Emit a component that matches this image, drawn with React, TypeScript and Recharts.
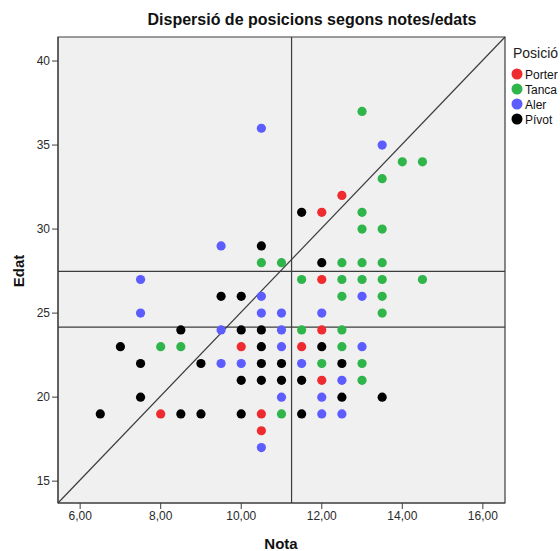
import React from "react";
import {
  CartesianGrid,
  ReferenceArea,
  ReferenceLine,
  Scatter,
  ScatterChart,
  XAxis,
  YAxis,
} from "recharts";

type Punt = { nota: number; edat: number };

const porter: Punt[] = [
  { nota: 12.5, edat: 32 },
  { nota: 12, edat: 31 },
  { nota: 12, edat: 27 },
  { nota: 12, edat: 24 },
  { nota: 10, edat: 23 },
  { nota: 11.5, edat: 23 },
  { nota: 12, edat: 21 },
  { nota: 8, edat: 19 },
  { nota: 10.5, edat: 19 },
  { nota: 10.5, edat: 18 },
];

const tanca: Punt[] = [
  { nota: 13, edat: 37 },
  { nota: 14, edat: 34 },
  { nota: 14.5, edat: 34 },
  { nota: 13.5, edat: 33 },
  { nota: 13, edat: 31 },
  { nota: 13, edat: 30 },
  { nota: 13.5, edat: 30 },
  { nota: 10.5, edat: 28 },
  { nota: 11, edat: 28 },
  { nota: 12.5, edat: 28 },
  { nota: 13, edat: 28 },
  { nota: 13.5, edat: 28 },
  { nota: 11.5, edat: 27 },
  { nota: 12.5, edat: 27 },
  { nota: 13, edat: 27 },
  { nota: 13.5, edat: 27 },
  { nota: 14.5, edat: 27 },
  { nota: 12.5, edat: 26 },
  { nota: 13.5, edat: 26 },
  { nota: 13.5, edat: 25 },
  { nota: 11.5, edat: 24 },
  { nota: 12.5, edat: 24 },
  { nota: 8, edat: 23 },
  { nota: 8.5, edat: 23 },
  { nota: 12.5, edat: 23 },
  { nota: 12, edat: 22 },
  { nota: 13, edat: 22 },
  { nota: 13, edat: 21 },
  { nota: 11, edat: 19 },
];

const aler: Punt[] = [
  { nota: 10.5, edat: 36 },
  { nota: 13.5, edat: 35 },
  { nota: 9.5, edat: 29 },
  { nota: 7.5, edat: 27 },
  { nota: 10.5, edat: 26 },
  { nota: 13, edat: 26 },
  { nota: 7.5, edat: 25 },
  { nota: 10.5, edat: 25 },
  { nota: 11, edat: 25 },
  { nota: 12, edat: 25 },
  { nota: 9.5, edat: 24 },
  { nota: 11, edat: 24 },
  { nota: 11, edat: 23 },
  { nota: 13, edat: 23 },
  { nota: 9.5, edat: 22 },
  { nota: 10, edat: 22 },
  { nota: 11.5, edat: 22 },
  { nota: 12.5, edat: 21 },
  { nota: 11, edat: 20 },
  { nota: 12, edat: 20 },
  { nota: 12, edat: 19 },
  { nota: 12.5, edat: 19 },
  { nota: 10.5, edat: 17 },
];

const pivot: Punt[] = [
  { nota: 11.5, edat: 31 },
  { nota: 10.5, edat: 29 },
  { nota: 12, edat: 28 },
  { nota: 9.5, edat: 26 },
  { nota: 10, edat: 26 },
  { nota: 8.5, edat: 24 },
  { nota: 10, edat: 24 },
  { nota: 10.5, edat: 24 },
  { nota: 7, edat: 23 },
  { nota: 10.5, edat: 23 },
  { nota: 12, edat: 23 },
  { nota: 7.5, edat: 22 },
  { nota: 9, edat: 22 },
  { nota: 10.5, edat: 22 },
  { nota: 11, edat: 22 },
  { nota: 12.5, edat: 22 },
  { nota: 10, edat: 21 },
  { nota: 10.5, edat: 21 },
  { nota: 11, edat: 21 },
  { nota: 11.5, edat: 21 },
  { nota: 7.5, edat: 20 },
  { nota: 12.5, edat: 20 },
  { nota: 13.5, edat: 20 },
  { nota: 6.5, edat: 19 },
  { nota: 8.5, edat: 19 },
  { nota: 9, edat: 19 },
  { nota: 10, edat: 19 },
  { nota: 11.5, edat: 19 },
];

const posicions = ["Porter", "Tanca", "Aler", "Pívot"];
const colors = ["#ef2b2f", "#2fb54a", "#5c5cff", "#000000"];
const series = [porter, tanca, aler, pivot];

const notaTicks = [6, 8, 10, 12, 14, 16];
const edatTicks = [15, 20, 25, 30, 35, 40];
const notaDomain: [number, number] = [5.45, 16.55];
const edatDomain: [number, number] = [13.7, 41.43];

// reference lines (mean nota, two age cuts)
const notaMitjana = 11.25;
const edatTalls = [27.48, 24.17];

const font = "'Liberation Sans', Arial, sans-serif";
const lineColor = "#3c3c3c";

const Dot = (props: any) => {
  const { cx, cy, fill } = props;
  if (cx == null || cy == null) return null;
  return <circle cx={cx} cy={cy} r={4.6} fill={fill} />;
};

export default function App() {
  return (
    <div style={{ position: "absolute", left: 0, top: 0, width: 560, height: 551, fontFamily: font }}>
      <ScatterChart width={560} height={551} margin={{ top: 37, right: 55, bottom: 0, left: 0 }}>
        <CartesianGrid fill="#f0f0f0" horizontal={false} vertical={false} />
        <XAxis
          type="number"
          dataKey="nota"
          domain={notaDomain}
          ticks={notaTicks}
          allowDataOverflow
          height={48}
          stroke={lineColor}
          tickSize={6}
          tick={{ fontSize: 12, fill: "#2a2a2a", fontFamily: font }}
          tickFormatter={(v: number) => v.toFixed(2).replace(".", ",")}
        />
        <YAxis
          type="number"
          dataKey="edat"
          domain={edatDomain}
          ticks={edatTicks}
          allowDataOverflow
          width={58}
          stroke={lineColor}
          tickSize={6}
          tick={{ fontSize: 12, fill: "#2a2a2a", fontFamily: font }}
        />
        <ReferenceArea
          x1={notaDomain[0]}
          x2={notaDomain[1]}
          y1={edatDomain[0]}
          y2={edatDomain[1]}
          fill="none"
          stroke={lineColor}
          strokeWidth={1.2}
        />
        <ReferenceLine x={notaMitjana} stroke={lineColor} strokeWidth={1.2} />
        {edatTalls.map((y) => (
          <ReferenceLine key={y} y={y} stroke={lineColor} strokeWidth={1.2} />
        ))}
        <ReferenceLine
          segment={[
            { x: notaDomain[0], y: edatDomain[0] },
            { x: notaDomain[1], y: edatDomain[1] },
          ]}
          stroke={lineColor}
          strokeWidth={1.2}
        />
        {series.map((data, i) => (
          <Scatter
            key={posicions[i]}
            name={posicions[i]}
            data={data}
            fill={colors[i]}
            shape={Dot}
            isAnimationActive={false}
          />
        ))}
        <text x={312} y={25} textAnchor="middle" fontSize={16} fontWeight="bold" fontFamily={font} fill="#111">
          Dispersió de posicions segons notes/edats
        </text>
        <text
          x={18}
          y={271}
          transform="rotate(-90 18 271)"
          textAnchor="middle"
          dominantBaseline="central"
          fontSize={15}
          fontWeight="bold"
          fontFamily={font}
          fill="#111"
        >
          Edat
        </text>
        <text x={281} y={549} textAnchor="middle" fontSize={15} fontWeight="bold" fontFamily={font} fill="#111">
          Nota
        </text>
        <text x={513} y={58} fontSize={14} fontFamily={font} fill="#222">
          Posició
        </text>
        {posicions.map((p, i) => (
          <g key={p}>
            <circle cx={517} cy={74 + i * 15} r={5.5} fill={colors[i]} />
            <text x={525} y={78.5 + i * 15} fontSize={12} fontFamily={font} fill="#111">
              {p}
            </text>
          </g>
        ))}
      </ScatterChart>
    </div>
  );
}
